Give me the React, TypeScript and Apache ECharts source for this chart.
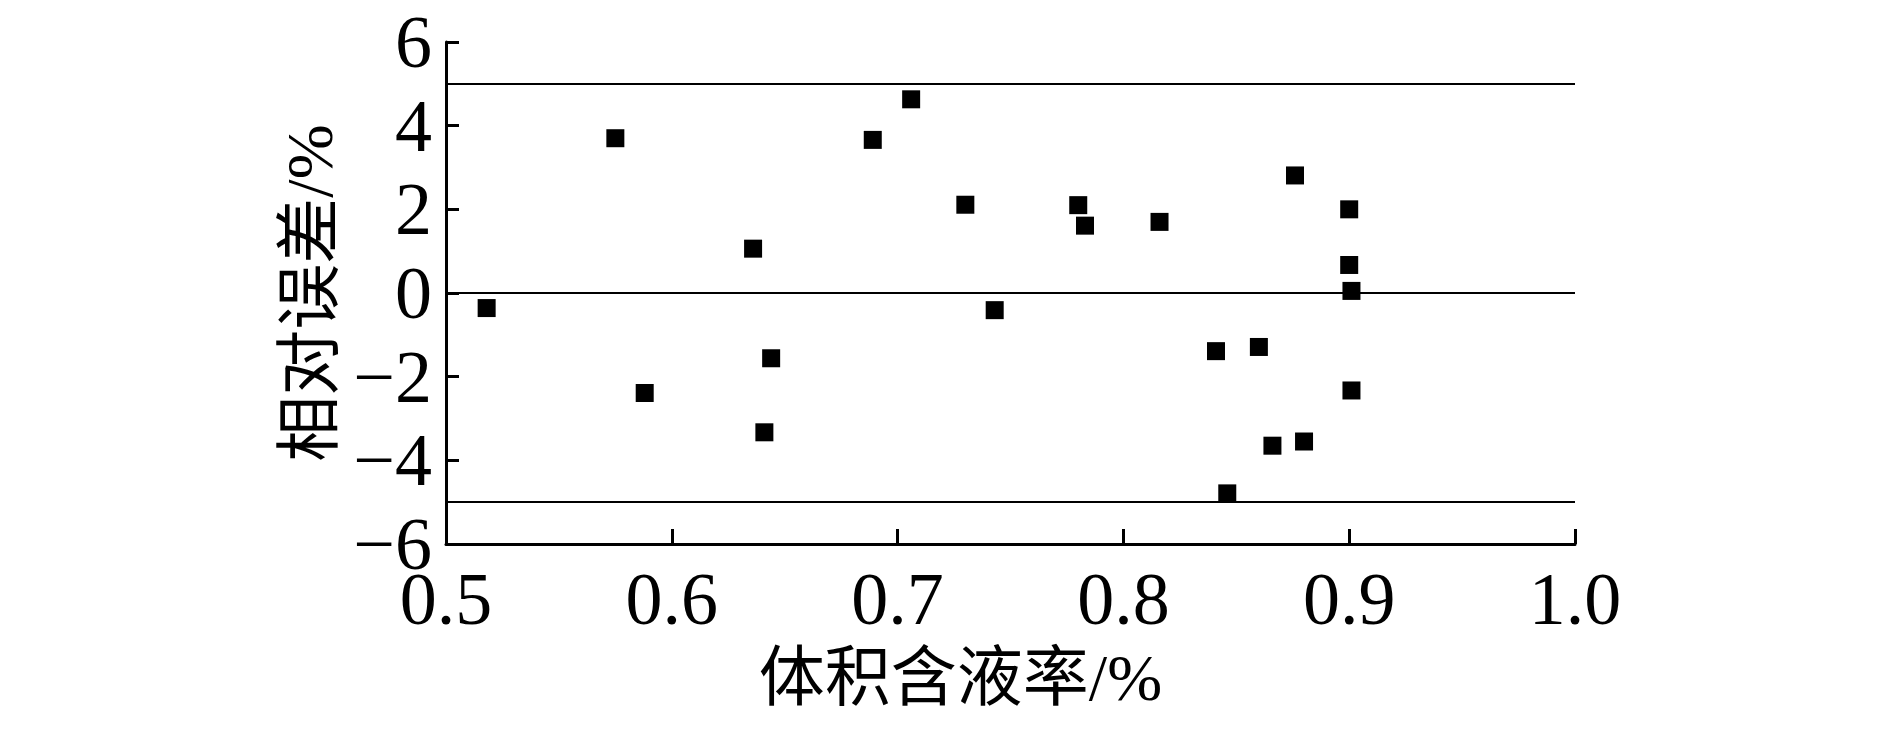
import React, { useEffect, useRef } from "react";
import * as echarts from "echarts";

const xValues = [
  0.518, 0.575, 0.588, 0.636, 0.644, 0.641, 0.689, 0.706, 0.730, 0.743,
  0.780, 0.783, 0.816, 0.841, 0.846, 0.860, 0.866, 0.876, 0.880, 0.900,
  0.900, 0.901, 0.901,
];
const yValues = [
  -0.36, 3.70, -2.39, 1.06, -1.56, -3.33, 3.66, 4.63, 2.11, -0.41,
  2.10, 1.61, 1.70, -1.39, -4.79, -1.29, -3.65, 2.81, -3.55, 2.00,
  0.67, 0.05, -2.33,
];
const referenceLines = [5, 0, -5];
const xAxisName = "体积含液率/%";
const yAxisName = "相对误差/%";

const serif = "'Liberation Serif', 'Times New Roman', 'Noto Sans CJK SC', serif";

export default function App() {
  const ref = useRef<HTMLDivElement>(null);
  useEffect(() => {
    if (!ref.current) return;
    const chart = echarts.init(ref.current, null, { renderer: "svg" });
    const points = xValues.map((x, i) => [x, yValues[i]]);
    chart.setOption({
      animation: false,
      backgroundColor: "#ffffff",
      grid: { left: 446, right: 315, top: 42, bottom: 187, containLabel: false },
      xAxis: {
        type: "value",
        min: 0.5,
        max: 1.0,
        interval: 0.1,
        name: xAxisName,
        nameLocation: "middle",
        nameGap: 100,
        nameTextStyle: {
          fontFamily: serif,
          fontSize: 66,
          color: "#000",
          padding: [0, 100, 0, 0],
        },
        axisLine: { show: true, onZero: false, lineStyle: { color: "#000", width: 3 } },
        axisTick: { show: true, inside: true, length: 15, lineStyle: { color: "#000", width: 3 } },
        axisLabel: {
          fontFamily: serif,
          fontSize: 74,
          lineHeight: 58,
          color: "#000",
          margin: 26,
          formatter: (v: number) => v.toFixed(1),
        },
        splitLine: { show: false },
      },
      yAxis: {
        type: "value",
        min: -6,
        max: 6,
        interval: 2,
        name: yAxisName,
        nameLocation: "middle",
        nameRotate: 90,
        nameGap: 102,
        nameTextStyle: { fontFamily: serif, fontSize: 66, color: "#000" },
        axisLine: { show: true, onZero: false, lineStyle: { color: "#000", width: 3 } },
        axisTick: { show: true, inside: true, length: 13, lineStyle: { color: "#000", width: 3 } },
        axisLabel: {
          fontFamily: serif,
          fontSize: 74,
          lineHeight: 50,
          color: "#000",
          margin: 14,
          formatter: (v: number) => (v < 0 ? "\u2212" + Math.abs(v) : String(v)),
        },
        splitLine: { show: false },
      },
      series: [
        {
          type: "scatter",
          symbol: "rect",
          symbolSize: 18,
          itemStyle: { color: "#000", opacity: 1 },
          data: points,
          markLine: {
            silent: true,
            symbol: ["none", "none"],
            label: { show: false },
            lineStyle: { color: "#000", width: 2, type: "solid", opacity: 1 },
            data: referenceLines.map((v) => ({ yAxis: v })),
          },
          z: 3,
        },
      ],
    });
    return () => chart.dispose();
  }, []);
  return (
    <div
      ref={ref}
      style={{ position: "fixed", left: 0, top: 0, width: 1890, height: 731, background: "#fff" }}
    />
  );
}
